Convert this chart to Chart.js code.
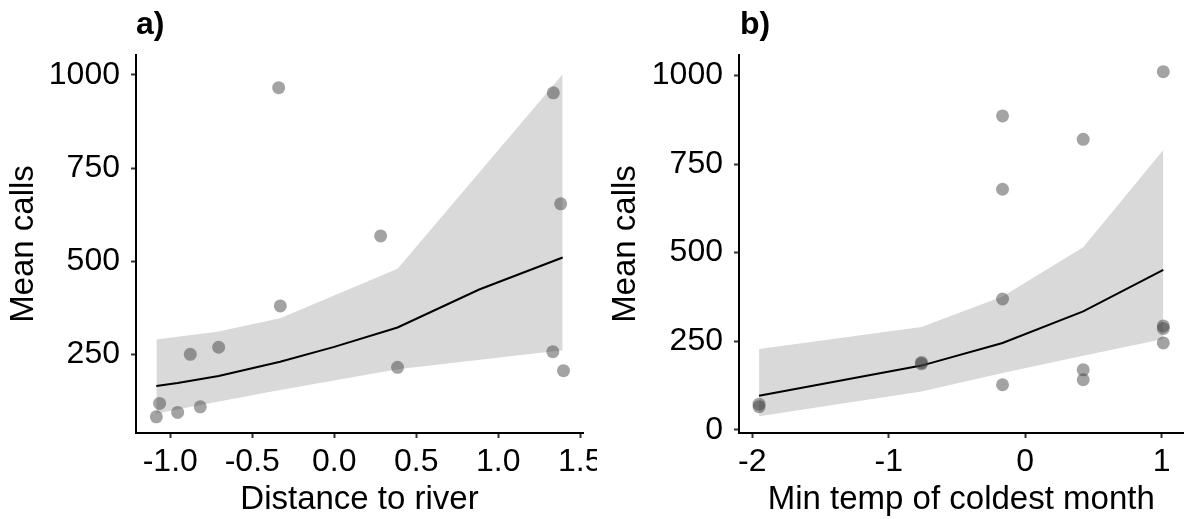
<!DOCTYPE html>
<html><head><meta charset="utf-8">
<script src="https://cdn.jsdelivr.net/npm/chart.js@4/dist/chart.umd.min.js"></script>
<style>
html,body{margin:0;padding:0;background:#fff;overflow:hidden;width:1184px;height:519px;position:relative;}
canvas{display:block;}
#wrapA{position:absolute;left:0;top:0;width:597px;height:519px;}
#wrapB{position:absolute;left:600px;top:0;width:590px;height:519px;}
.lbl{position:absolute;font-family:"Liberation Sans",Arial,sans-serif;font-weight:bold;font-size:32px;line-height:32px;color:#000;white-space:nowrap;}
</style></head><body>
<div id="wrapA"><canvas id="cA" width="597" height="519"></canvas></div>
<div id="wrapB"><canvas id="cB" width="590" height="519"></canvas></div>
<div class="lbl" style="left:136px;top:7px">a)</div>
<div class="lbl" style="left:740px;top:7px">b)</div>
<script>
// ---------- Panel a: Distance to river ----------
const distX      = [-1.085,-1.065,-0.955,-0.878,-0.817,-0.705,-0.329,-0.339,0.283,0.386,1.336,1.333,1.381,1.398];
const distCalls  = [82,118,94,250,109,269,380,966,568,215,952,257,654,206];
const distFitX   = [-1.085,-0.955,-0.705,-0.33,0.0,0.386,0.884,1.393];
const distFit    = [165,173,192,230,270,322,424,510];
const distBandX  = [-1.085,-0.705,-0.33,0.386,1.393];
const distUpper  = [290,311,347,480,1002];
const distLower  = [91,123,154,210,261];
const distTicksX = [-1.0,-0.5,0.0,0.5,1.0,1.5];
const distTickLabelsX = ["-1.0","-0.5","0.0","0.5","1.0","1.5"];
const distTicksY = [250,500,750,1000];

// ---------- Panel b: Min temp of coldest month ----------
const tempX      = [-1.95,-1.95,-0.76,-0.76,-0.166,-0.166,-0.166,-0.166,0.425,0.425,0.425,1.012,1.012,1.012,1.012];
const tempCalls  = [65,72,186,190,886,679,369,127,820,169,141,1011,293,286,245];
const tempFitX   = [-1.95,-0.76,-0.166,0.425,1.012];
const tempFit    = [96,181,245,334,451];
const tempUpper  = [228,290,376,515,790];
const tempLower  = [38,108,160,209,256];
const tempTicksX = [-2,-1,0,1];
const tempTickLabelsX = ["-2","-1","0","1"];
const tempTicksY = [0,250,500,750,1000];

const FONT = '"Liberation Sans", Arial, sans-serif';
const pts = (xs, ys) => xs.map((x, i) => ({x: x, y: ys[i]}));

function makeChart(id, o) {
  return new Chart(document.getElementById(id), {
    type: 'scatter',
    data: {
      datasets: [
        {data: pts(o.px, o.py), order: 0, pointRadius: 6.5, pointHoverRadius: 6.5,
         backgroundColor: 'rgba(60,60,60,0.47)', borderWidth: 0, pointBorderWidth: 0},
        {data: pts(o.fx, o.fy), order: 1, showLine: true, borderColor: '#000', borderWidth: 2,
         pointRadius: 0, tension: 0, fill: false},
        {data: pts(o.bx, o.up), order: 2, showLine: true, borderWidth: 0, borderColor: 'rgba(0,0,0,0)',
         pointRadius: 0, tension: 0, fill: '+1', backgroundColor: '#d9d9d9'},
        {data: pts(o.bx, o.lo), order: 3, showLine: true, borderWidth: 0, borderColor: 'rgba(0,0,0,0)',
         pointRadius: 0, tension: 0, fill: false}
      ]
    },
    options: {
      responsive: false, animation: false, devicePixelRatio: 1,
      layout: {padding: {left: 0, top: 55, right: o.padRight, bottom: 0}},
      plugins: {legend: {display: false}, tooltip: {enabled: false}, title: {display: false}},
      scales: {
        x: {
          type: 'linear', min: o.xmin, max: o.xmax,
          afterBuildTicks: s => { s.ticks = o.xt.map(v => ({value: v})); },
          afterFit: s => { s.height = 86; s.paddingLeft = 0; s.paddingRight = 0; },
          ticks: {callback: (v, i) => o.xl[i], font: {family: FONT, size: 32}, color: '#000',
                  padding: 5, maxRotation: 0, autoSkip: false},
          grid: {display: true, drawOnChartArea: false, drawTicks: true, tickLength: 5, tickWidth: 2, tickColor: '#333'},
          border: {display: true, color: '#000', width: 2},
          title: {display: true, text: o.xtitle, color: '#000', font: {family: FONT, size: 33, lineHeight: 1},
                  padding: {top: 0, bottom: 3}}
        },
        y: {
          type: 'linear', min: o.ymin, max: o.ymax,
          afterBuildTicks: s => { s.ticks = o.yt.map(v => ({value: v})); },
          afterFit: s => { s.width = o.yw; s.paddingTop = 0; s.paddingBottom = 0; },
          ticks: {callback: v => String(v), font: {family: FONT, size: 32}, color: '#000', padding: 11, autoSkip: false},
          grid: {display: true, drawOnChartArea: false, drawTicks: true, tickLength: 5, tickWidth: 2, tickColor: '#333'},
          border: {display: true, color: '#000', width: 2},
          title: {display: true, text: 'Mean calls', color: '#000', font: {family: FONT, size: 33, lineHeight: 1},
                  padding: {top: o.ytpad, bottom: 0}}
        }
      }
    }
  });
}

makeChart('cA', {
  px: distX, py: distCalls, fx: distFitX, fy: distFit, bx: distBandX, up: distUpper, lo: distLower,
  xt: distTicksX, xl: distTickLabelsX, yt: distTicksY,
  xmin: -1.209, xmax: 1.517, ymin: 38.7, ymax: 1053.7,
  yw: 136, padRight: 14, ytpad: 7, xtitle: 'Distance to river'
});
makeChart('cB', {
  px: tempX, py: tempCalls, fx: tempFitX, fy: tempFit, bx: tempFitX, up: tempUpper, lo: tempLower,
  xt: tempTicksX, xl: tempTickLabelsX, yt: tempTicksY,
  xmin: -2.097, xmax: 1.16, ymin: -9.3, ymax: 1058,
  yw: 139, padRight: 4.8, ytpad: 9, xtitle: 'Min temp of coldest month'
});
</script>
</body></html>
